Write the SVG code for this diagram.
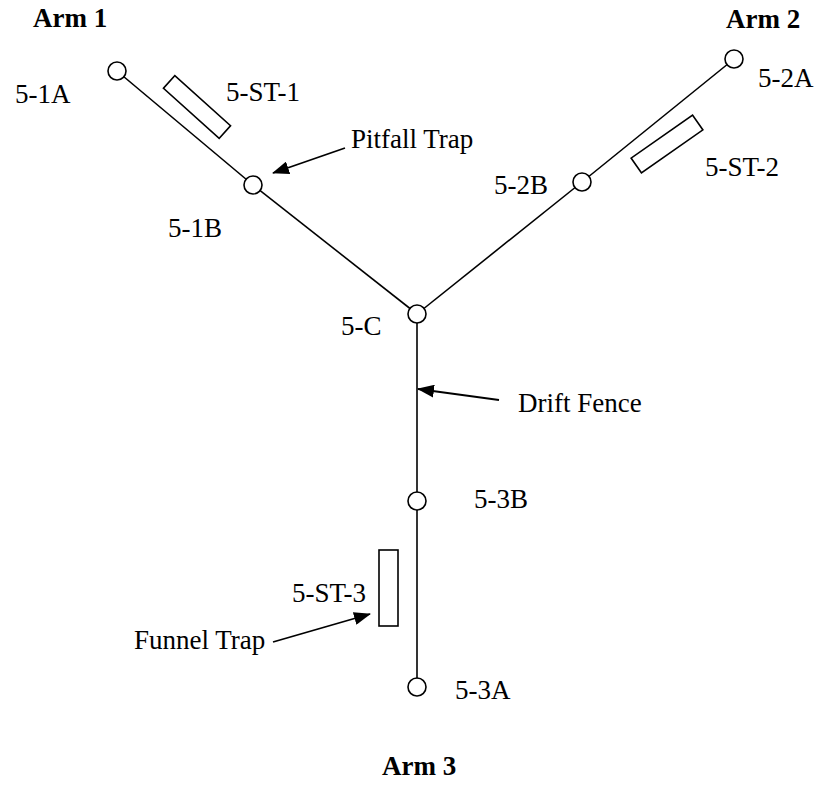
<svg xmlns="http://www.w3.org/2000/svg" width="816" height="785" viewBox="0 0 816 785">
<style>
  .ln { stroke: #000; stroke-width: 1.6; fill: none; }
  .nd { stroke: #000; stroke-width: 1.6; fill: #fff; }
  .tr { stroke: #000; stroke-width: 1.6; fill: #fff; }
  .t { font-family: "Liberation Serif", "Times New Roman", serif; font-size: 27px; fill: #000; }
  .b { font-weight: bold; }
  .ar { stroke: #000; stroke-width: 1.8; fill: none; marker-end: url(#ah); }
</style>
<defs>
  <marker id="ah" viewBox="0 0 17 13" refX="16" refY="6.5" markerWidth="17" markerHeight="13" markerUnits="userSpaceOnUse" orient="auto">
    <path d="M0,0 L17,6.5 L0,13 Z" fill="#000"/>
  </marker>
</defs>
<rect width="816" height="785" fill="#fff"/>
<g id="connectors">
  <line class="ln" x1="117" y1="71" x2="253" y2="185"/>
  <line class="ln" x1="253" y1="185" x2="417" y2="314"/>
  <line class="ln" x1="417" y1="314" x2="582" y2="182"/>
  <line class="ln" x1="582" y1="182" x2="734" y2="59"/>
  <line class="ln" x1="417" y1="314" x2="417" y2="687"/>
  <line class="ar" x1="345" y1="148" x2="273" y2="173"/>
  <line class="ar" x1="499" y1="400" x2="418" y2="389"/>
  <line class="ar" x1="273" y1="642" x2="370" y2="614"/>
</g>
<g id="n-5-1A"><circle class="nd" cx="117" cy="71" r="9"/><text class="t" x="15" y="103">5-1A</text></g>
<g id="n-5-1B"><circle class="nd" cx="253" cy="185" r="9"/><text class="t" x="168" y="237">5-1B</text></g>
<g id="n-5-C"><circle class="nd" cx="417" cy="314" r="9"/><text class="t" x="341" y="335">5-C</text></g>
<g id="n-5-2B"><circle class="nd" cx="582" cy="182" r="9"/><text class="t" x="494" y="194">5-2B</text></g>
<g id="n-5-2A"><circle class="nd" cx="734" cy="59" r="9"/><text class="t" x="758" y="87">5-2A</text></g>
<g id="n-5-3B"><circle class="nd" cx="417" cy="501" r="9"/><text class="t" x="474" y="508">5-3B</text></g>
<g id="n-5-3A"><circle class="nd" cx="417" cy="687" r="9"/><text class="t" x="455" y="699">5-3A</text></g>
<g id="n-5-ST-1"><rect class="tr" x="-37.5" y="-8.5" width="75" height="17" transform="translate(197,107) rotate(42)"/><text class="t" x="226" y="101">5-ST-1</text></g>
<g id="n-5-ST-2"><rect class="tr" x="-37.5" y="-9" width="75" height="18" transform="translate(667,144) rotate(-35)"/><text class="t" x="705" y="176">5-ST-2</text></g>
<g id="n-5-ST-3"><rect class="tr" x="379" y="550" width="19" height="76"/><text class="t" x="292" y="602">5-ST-3</text></g>
<g id="labels">
  <text class="t b" x="33" y="27">Arm 1</text>
  <text class="t b" x="726" y="28">Arm 2</text>
  <text class="t b" x="382" y="775">Arm 3</text>
  <text class="t" x="351" y="148">Pitfall Trap</text>
  <text class="t" x="518" y="412">Drift Fence</text>
  <text class="t" x="134" y="649">Funnel Trap</text>
</g>
</svg>
